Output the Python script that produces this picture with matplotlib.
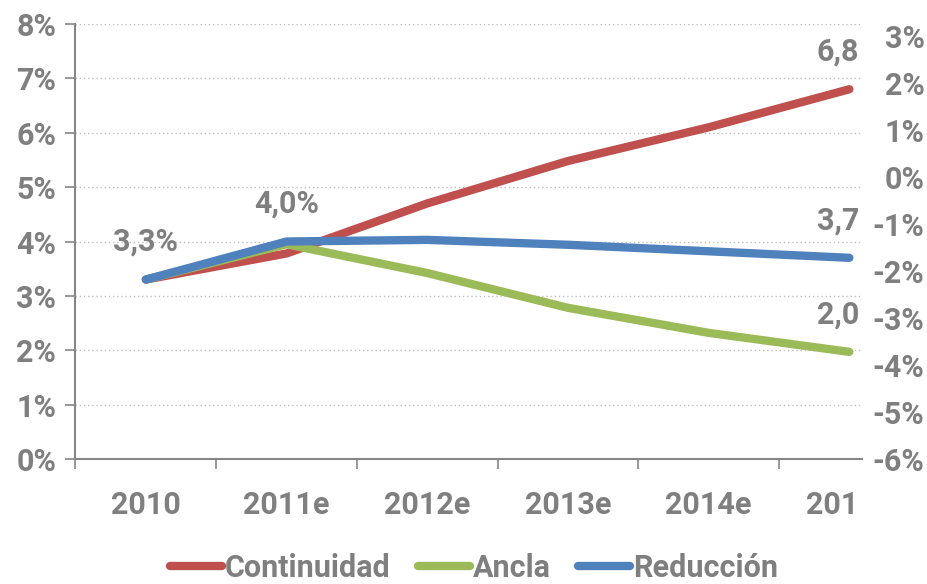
import matplotlib
matplotlib.use('Agg')
import matplotlib.pyplot as plt
from matplotlib.transforms import Bbox, TransformedBbox

plt.rcParams['font.family'] = ['Roboto', 'DejaVu Sans']
plt.rcParams['font.weight'] = 'bold'

years = ['2010', '2011e', '2012e', '2013e', '2014e', '2015e']
continuidad = [3.3, 3.78, 4.7, 5.48, 6.1, 6.8]
ancla = [3.3, 3.95, 3.42, 2.78, 2.32, 1.97]
reduccion = [3.3, 4.0, 4.03, 3.94, 3.82, 3.7]
left_ticks = [0, 1, 2, 3, 4, 5, 6, 7, 8]
right_ticks = [-6, -5, -4, -3, -2, -1, 0, 1, 2, 3]

gray = '#7f7f7f'
axis_gray = '#868686'
fs = 22

fig = plt.figure(figsize=(9.28, 5.84), dpi=100)
ax = fig.add_axes([75.5 / 928, 125 / 584, (862 - 75.5) / 928, (459 - 24) / 584])

x = list(range(len(years)))
ax.plot(x, continuidad, color='#C0504D', lw=6, solid_capstyle='round', solid_joinstyle='round', label='Continuidad')
ax.plot(x, ancla, color='#9BBB59', lw=6, solid_capstyle='round', solid_joinstyle='round', label='Ancla')
ax.plot(x, reduccion, color='#4F81BD', lw=6, solid_capstyle='round', solid_joinstyle='round', label='Reducción')

ax.set_xlim(-0.5, -0.5 + (862 - 75.5) / 140.7)
ax.set_ylim(0, 8)
ax.set_yticks(left_ticks)
ax.set_yticklabels([f'{v}%' for v in left_ticks])
ax.set_xticks(x)
ax.set_xticklabels(years)
ax.set_xticks([i - 0.5 for i in range(len(years))], minor=True)

for s in ['top', 'right']:
    ax.spines[s].set_visible(False)
for s in ['left', 'bottom']:
    ax.spines[s].set_color(axis_gray)
    ax.spines[s].set_linewidth(1.5)

ax.tick_params(axis='y', length=7, width=1.2, color=axis_gray, labelcolor=gray, labelsize=fs, pad=7)
ax.tick_params(axis='x', which='major', length=0, labelcolor=gray, labelsize=fs, pad=22)
ax.tick_params(axis='x', which='minor', length=7, width=1.2, color=axis_gray)
ax.grid(axis='y', linestyle=(0, (1, 2)), color='#bfbfbf', lw=1.0)
ax.set_axisbelow(True)

# secondary axis (only its labels are visible)
ax2 = ax.twinx()
ax2.set_ylim(-6, 3.255)
ax2.set_yticks(right_ticks)
ax2.set_yticklabels([f'{v}%' for v in right_ticks])
for s in ax2.spines.values():
    s.set_visible(False)
ax2.tick_params(axis='y', length=0, labelcolor=gray, labelsize=fs, pad=45)
for t in ax2.get_yticklabels():
    t.set_horizontalalignment('right')

# the chart is cut just right of the last category
clip = TransformedBbox(Bbox([[0, 0], [858 / 928, 1]]), fig.transFigure)

# data labels
labels = [
    (0, continuidad[0], '3,3%'),
    (1, reduccion[1], '4,0%'),
    (5, continuidad[5], '6,8%'),
    (5, reduccion[5], '3,7%'),
    (5, ancla[5], '2,0%'),
]
for xi, yi, txt in labels:
    t = ax.annotate(txt, (xi, yi), xytext=(0, 27), textcoords='offset points',
                    ha='center', va='center', color=gray, fontsize=fs)
    t.set_clip_box(clip)
    t.set_clip_on(True)

for t in ax.get_xticklabels():
    t.set_clip_box(clip)
    t.set_clip_on(True)

fig.legend(loc='center', bbox_to_anchor=(474 / 928, 1 - 568 / 584), ncol=3, frameon=False,
           fontsize=fs, labelcolor=gray, handlelength=1.7, handletextpad=0.1,
           columnspacing=0.9)

fig.savefig('out.png', dpi=100)
